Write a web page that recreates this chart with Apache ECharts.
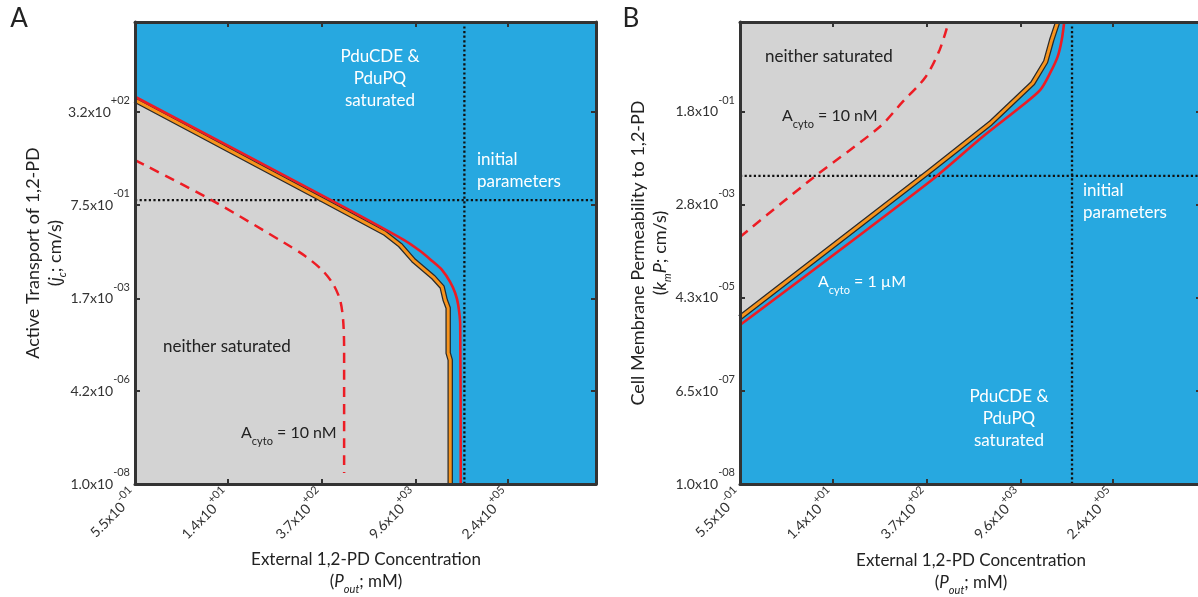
<!DOCTYPE html>
<html>
<head>
<meta charset="utf-8">
<script src="https://cdn.jsdelivr.net/npm/echarts@6/dist/echarts.min.js"></script>
<style>
  html, body { margin: 0; padding: 0; background: #fff; }
  #main { width: 1198px; height: 597px; }
</style>
</head>
<body>
<div id="main"></div>
<script>
// tick values (real units), axes are drawn in log10 of these
var xTickValues = [0.55, 14, 370, 9600, 2.4e5];          // P_out, mM
var yTickValuesA = [1e-8, 4.2e-6, 1.7e-3, 0.75, 320];    // j_c, cm/s
var yTickValuesB = [1e-8, 6.5e-7, 4.3e-5, 2.8e-3, 0.18]; // k_m P, cm/s

// axis extents (log10)
var xRange = [Math.log10(0.55), 6.71];
var yRangeA = [-8, 5.05];
var yRangeB = [-8, 1.01];

// initial parameters (log10 P_out, log10 y)
var initA = [4.72, 0.02];
var initB = [4.76, -1.99];

// panel A: [log10 P_out, log10 j_c]
var bandA = [
  [-0.26, 2.844], [0.723, 1.867], [1.631, 0.966], [2.584, 0.020], [3.516, -0.912],
  [3.749, -1.251], [3.946, -1.674], [4.248, -2.154], [4.384, -2.437], [4.430, -2.804],
  [4.475, -3.030], [4.475, -4.300], [4.506, -4.498], [4.506, -8]
];
var cyto1uMA = [
  [-0.26, 2.938], [2.645, 0.077], [3.810, -1.109], [4.052, -1.420], [4.233, -1.702],
  [4.384, -1.957], [4.506, -2.295], [4.581, -2.606], [4.627, -2.945], [4.657, -3.510], [4.665, -8]
];
var cyto10nMA = [
  [-0.26, 1.150], [0.897, 0.020], [2.003, -1.194], [2.312, -1.561], [2.569, -1.957],
  [2.735, -2.352], [2.841, -2.804], [2.887, -3.369], [2.902, -4.216], [2.902, -7.689]
];

// panel B: [log10 P_out, log10 k_m P]
var bandB = [
  [-0.26, -4.752], [2.599, -1.909], [3.527, -0.965], [4.165, -0.185], [4.362, 0.237],
  [4.453, 0.660], [4.543, 1.01]
];
var cyto1uMB = [
  [-0.26, -4.899], [2.607, -2.104], [3.409, -1.226], [3.984, -0.641], [4.280, -0.315],
  [4.437, 0.036], [4.543, 0.334], [4.604, 0.660], [4.642, 1.01]
];
var cyto10nMB = [
  [-0.26, -3.182], [0.861, -2.012], [1.850, -1.037], [2.198, -0.549], [2.546, -0.062],
  [2.758, 0.465], [2.894, 1.01]
];

var BLUE = '#27a8e0', GREY = '#d3d3d3', ORANGE = '#f7941d', RED = '#ed1c24', FRAME = '#333333';
var FONT = 'Lato';

function log10All(arr) { return arr.map(function (v) { return Math.log10(v); }); }

// 5.5x10^-01 style label from a log10 value
function expLabel(lv) {
  var e = Math.floor(lv + 1e-6);
  var m = Math.pow(10, lv - e);
  var es = (e < 0 ? '-' : '+') + (Math.abs(e) < 10 ? '0' : '') + Math.abs(e);
  return '{m|' + m.toFixed(1) + 'x10}{e|' + es + '}';
}

function labelRich(lh) {
  return {
    m: { fontSize: 14, color: '#333', fontFamily: FONT, lineHeight: lh, verticalAlign: 'middle' },
    e: { fontSize: 11, color: '#333', fontFamily: FONT, lineHeight: 13, verticalAlign: 'top' }
  };
}

function axis(gi, range, ticks, position, labels) {
  var a = {
    type: 'value', gridIndex: gi, min: range[0], max: range[1], position: position,
    z: 10,
    splitLine: { show: false },
    axisLine: { show: true, onZero: false, lineStyle: { color: FRAME, width: 3 } },
    axisTick: { show: true, inside: true, length: 5, customValues: ticks, lineStyle: { color: FRAME, width: 2 } },
    axisLabel: { show: false }
  };
  if (labels) {
    var isX = position === 'bottom';
    a.axisLabel = {
      show: true, customValues: ticks, margin: isX ? 9 : 5,
      rotate: isX ? 45 : 0,
      formatter: function (v) { return expLabel(v); },
      rich: labelRich(isX ? 25 : 34)
    };
  }
  return a;
}

var xt = log10All(xTickValues), ytA = log10All(yTickValuesA), ytB = log10All(yTickValuesB);

function lineSeries(xi, data, style, z, extra) {
  var s = {
    type: 'line', xAxisIndex: xi, yAxisIndex: xi, data: data, symbol: 'none',
    lineStyle: style, z: z, silent: true
  };
  for (var k in extra) s[k] = extra[k];
  return s;
}

function panelSeries(i, band, red, dashed, init, yRange, areaOrigin) {
  var xi = i * 2; // bottom x / left y axes indices
  var dot = { color: '#111', width: 2.3, type: [2.2, 2.4] };
  return [
    lineSeries(xi, band, { width: 0 }, 1, { areaStyle: { color: GREY, opacity: 1, origin: areaOrigin } }),
    lineSeries(xi, [[xRange[0], init[1]], [xRange[1], init[1]]], dot, 2),
    lineSeries(xi, [[init[0], yRange[0]], [init[0], yRange[1]]], dot, 2),
    lineSeries(xi, dashed, { color: RED, width: 2.5, type: [10, 7] }, 3, { smooth: 0.3 }),
    lineSeries(xi, band, { color: '#2a2a2a', width: 5.5, join: 'round' }, 4),
    lineSeries(xi, band, { color: ORANGE, width: 3, join: 'round' }, 5),
    lineSeries(xi, red, { color: RED, width: 2.6 }, 6, { smooth: 0.3 })
  ];
}

// ---- text helpers ----
var txtRich = {
  n: { fontSize: 16, fontFamily: FONT, lineHeight: 22, verticalAlign: 'top' },
  i: { fontSize: 16, fontFamily: FONT, fontStyle: 'italic', lineHeight: 22, verticalAlign: 'top' },
  s: { fontSize: 11, fontFamily: FONT, lineHeight: 22, verticalAlign: 'bottom' },
  si: { fontSize: 11, fontFamily: FONT, fontStyle: 'italic', lineHeight: 22, verticalAlign: 'bottom' }
};
function richStyle(color, size) {
  var r = {};
  for (var k in txtRich) {
    r[k] = Object.assign({ color: color }, txtRich[k]);
    if (size && (k === 'n' || k === 'i')) r[k].fontSize = size;
  }
  return r;
}
function text(x, y, str, opt) {
  opt = opt || {};
  return {
    type: 'text', x: x, y: y, rotation: opt.rot || 0, z: 100, silent: true,
    style: {
      text: str, fill: opt.color || '#222', fontSize: opt.size || 17, fontFamily: FONT,
      align: opt.align || 'left', verticalAlign: 'middle', lineHeight: opt.lh || 20,
      rich: opt.rich ? richStyle(opt.color || '#222', opt.size) : undefined
    }
  };
}

var graphics = [
  text(19, 19, 'A', { size: 26, align: 'center' }),
  text(631, 19, 'B', { size: 26, align: 'center' }),
  // axis titles A
  text(33, 253, 'Active Transport of 1,2-PD', { rot: Math.PI / 2, align: 'center', size: 18 }),
  text(57, 253, '{n|(}{i|j}{si|c}{n|; cm/s)}', { rot: Math.PI / 2, align: 'center', rich: true, size: 18 }),
  text(366, 560, 'External 1,2-PD Concentration', { align: 'center' }),
  text(366, 584, '{n|(}{i|P}{si|out}{n|; mM)}', { align: 'center', rich: true, size: 17 }),
  // axis titles B
  text(638, 253, 'Cell Membrane Permeability to 1,2-PD', { rot: Math.PI / 2, align: 'center', size: 18 }),
  text(662, 253, '{n|(}{i|k}{si|m}{i|P}{n|; cm/s)}', { rot: Math.PI / 2, align: 'center', rich: true, size: 18 }),
  text(971, 561, 'External 1,2-PD Concentration', { align: 'center' }),
  text(971, 585, '{n|(}{i|P}{si|out}{n|; mM)}', { align: 'center', rich: true, size: 17 }),
  // annotations A
  text(380, 79, 'PduCDE &\nPduPQ\nsaturated', { color: '#fff', align: 'center', lh: 22 }),
  text(477, 171, 'initial\nparameters', { color: '#fff', lh: 22 }),
  text(163, 347, 'neither saturated'),
  text(241, 436, '{n|A}{s|cyto}{n| = 10 nM}', { rich: true, size: 16 }),
  // annotations B
  text(765, 57, 'neither saturated'),
  text(782, 119, '{n|A}{s|cyto}{n| = 10 nM}', { rich: true, size: 16 }),
  text(818, 285, '{n|A}{s|cyto}{n| = 1 \u00b5M}', { rich: true, size: 16, color: '#fff' }),
  text(1083, 202, 'initial\nparameters', { color: '#fff', lh: 22 }),
  text(1009, 419, 'PduCDE &\nPduPQ\nsaturated', { color: '#fff', align: 'center', lh: 22 })
];

var chart = echarts.init(document.getElementById('main'), null, { renderer: 'canvas' });
chart.setOption({
  animation: false,
  backgroundColor: '#fff',
  grid: [
    { left: 135, top: 22, width: 461, height: 462, show: true, backgroundColor: BLUE, borderWidth: 0, containLabel: false, outerBoundsMode: 'none' },
    { left: 740, top: 22, width: 461, height: 462, show: true, backgroundColor: BLUE, borderWidth: 0, containLabel: false, outerBoundsMode: 'none' }
  ],
  xAxis: [
    axis(0, xRange, xt, 'bottom', true), axis(0, xRange, xt, 'top', false),
    axis(1, xRange, xt, 'bottom', true), axis(1, xRange, xt, 'top', false)
  ],
  yAxis: [
    axis(0, yRangeA, ytA, 'left', true), axis(0, yRangeA, ytA, 'right', false),
    axis(1, yRangeB, ytB, 'left', true), axis(1, yRangeB, ytB, 'right', false)
  ],
  series: [].concat(
    panelSeries(0, bandA, cyto1uMA, cyto10nMA, initA, yRangeA, 'start'),
    panelSeries(1, bandB, cyto1uMB, cyto10nMB, initB, yRangeB, 'end')
  ),
  graphic: graphics
});
</script>
</body>
</html>
